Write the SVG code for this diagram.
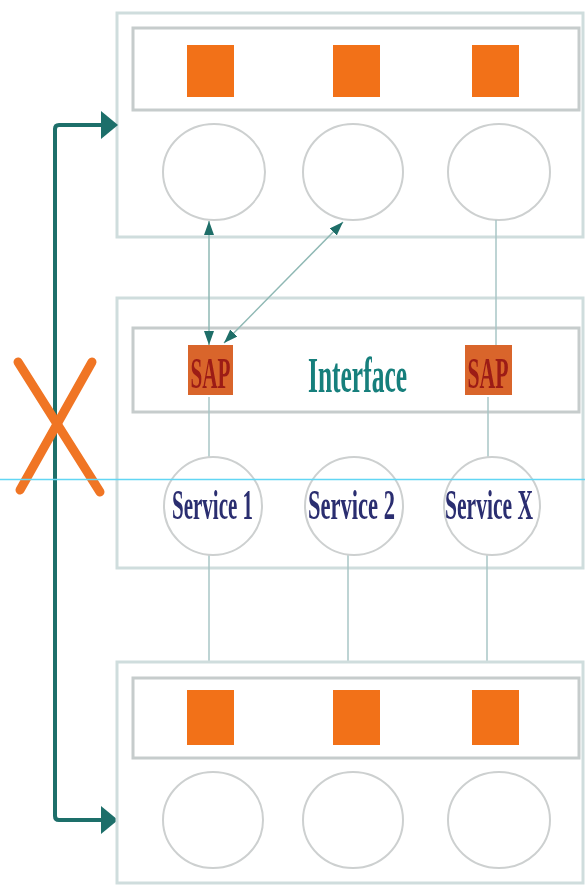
<svg xmlns="http://www.w3.org/2000/svg" width="585" height="888" viewBox="0 0 585 888">
  <style>
    .outer { fill: #ffffff; stroke: #cfdddd; stroke-width: 3; }
    .inner { fill: #ffffff; stroke: #c6cccc; stroke-width: 3; }
    .port { fill: #f27118; }
    .sap { fill: #d9652b; }
    .ent { fill: #ffffff; stroke: #cdd0d0; stroke-width: 2; }
    .link { fill: none; stroke: #a9c6c6; stroke-width: 1.5; }
    .dlink { fill: none; stroke: #8fb8b4; stroke-width: 1.5; }
    .sapt { font-family: "Liberation Serif", serif; font-weight: bold; font-size: 44px; fill: #9c1a14; text-anchor: middle; }
    .svc { font-family: "Liberation Serif", serif; font-weight: bold; font-size: 42px; fill: #2b2d70; text-anchor: middle; }
    .ifc { font-family: "Liberation Serif", serif; font-weight: bold; font-size: 50px; fill: #167f7c; text-anchor: middle; }
    .soft { filter: url(#soft); }
  </style>
  <defs>
    <filter id="soft" x="-10%" y="-10%" width="120%" height="120%">
      <feGaussianBlur stdDeviation="0.6"/>
    </filter>
    <marker id="tip" viewBox="0 0 14 10" refX="14" refY="5" markerWidth="14" markerHeight="10" markerUnits="userSpaceOnUse" orient="auto-start-reverse">
      <path d="M0,0 L14,5 L0,10 z" fill="#1e6e68"/>
    </marker>
  </defs>

  <rect width="585" height="888" fill="#ffffff"/>

  <!-- upper layer -->
  <g id="layer-upper">
    <rect class="outer" x="117" y="13" width="466" height="224"/>
    <rect class="inner" x="133" y="28" width="446" height="82"/>
    <rect class="port" x="187" y="45" width="47" height="52"/>
    <rect class="port" x="333" y="45" width="47" height="52"/>
    <rect class="port" x="472" y="45" width="47" height="52"/>
    <ellipse class="ent" cx="214" cy="172" rx="51" ry="48"/>
    <ellipse class="ent" cx="353" cy="172" rx="50" ry="48"/>
    <ellipse class="ent" cx="499" cy="172" rx="51" ry="48"/>
  </g>

  <!-- service layer -->
  <g id="layer-service">
    <rect class="outer" x="117" y="298" width="466" height="270"/>
    <rect class="inner" x="133" y="328" width="446" height="84"/>
  </g>

  <g id="connectors">
    <!-- layer-to-layer links -->
    <line class="link" x1="209" y1="397" x2="209" y2="457"/>
    <line class="link" x1="496" y1="220" x2="496" y2="345"/>
    <line class="link" x1="488" y1="397" x2="488" y2="457"/>
    <line class="link" x1="209" y1="555" x2="209" y2="662"/>
    <line class="link" x1="348" y1="555" x2="348" y2="662"/>
    <line class="link" x1="487" y1="555" x2="487" y2="662"/>
    <!-- peer access through the SAP -->
    <line class="dlink" x1="209" y1="221" x2="209" y2="345" marker-start="url(#tip)" marker-end="url(#tip)"/>
    <line class="dlink" x1="343" y1="222" x2="224" y2="343" marker-start="url(#tip)" marker-end="url(#tip)"/>
    <!-- direct path between upper and lower layers -->
    <path d="M101,125 H59 Q55,125 55,129 V816 Q55,820 59,820 H101" fill="none" stroke="#1d6f6a" stroke-width="4"/>
    <path d="M101,111 L118,125 L101,139 z" fill="#1d6f6a"/>
    <path d="M101,806 L118,820 L101,834 z" fill="#1d6f6a"/>
  </g>

  <!-- service access points and interface (narrow lettering: half-width scale) -->
  <g id="sap-1">
    <rect class="sap" x="188" y="345" width="45" height="50"/>
    <text class="sapt soft" transform="translate(210.5,388) scale(0.5,1)" x="0" y="0" textLength="80" lengthAdjust="spacingAndGlyphs">SAP</text>
  </g>
  <g id="sap-2">
    <rect class="sap" x="465" y="345" width="47" height="50"/>
    <text class="sapt soft" transform="translate(488,388) scale(0.5,1)" x="0" y="0" textLength="82" lengthAdjust="spacingAndGlyphs">SAP</text>
  </g>
  <g id="interface">
    <text class="ifc soft" transform="translate(357.5,392) scale(0.5,1)" x="0" y="0" textLength="198" lengthAdjust="spacingAndGlyphs">Interface</text>
  </g>

  <g id="service-1">
    <ellipse class="ent" cx="213" cy="506" rx="49" ry="49"/>
    <text class="svc soft" transform="translate(212.5,519) scale(0.5,1)" x="0" y="0" textLength="162" lengthAdjust="spacingAndGlyphs">Service 1</text>
  </g>
  <g id="service-2">
    <ellipse class="ent" cx="354" cy="506" rx="49" ry="49"/>
    <text class="svc soft" transform="translate(351.5,519) scale(0.5,1)" x="0" y="0" textLength="174" lengthAdjust="spacingAndGlyphs">Service 2</text>
  </g>
  <g id="service-x">
    <ellipse class="ent" cx="492" cy="506" rx="48" ry="49"/>
    <text class="svc soft" transform="translate(489,519) scale(0.5,1)" x="0" y="0" textLength="176" lengthAdjust="spacingAndGlyphs">Service X</text>
  </g>

  <!-- lower layer -->
  <g id="layer-lower">
    <rect class="outer" x="117" y="662" width="466" height="221"/>
    <rect class="inner" x="133" y="678" width="446" height="80"/>
    <rect class="port" x="187" y="690" width="47" height="55"/>
    <rect class="port" x="333" y="690" width="47" height="55"/>
    <rect class="port" x="472" y="690" width="47" height="55"/>
    <ellipse class="ent" cx="213" cy="820" rx="50" ry="48"/>
    <ellipse class="ent" cx="353" cy="820" rx="50" ry="48"/>
    <ellipse class="ent" cx="499" cy="820" rx="51" ry="48"/>
  </g>

  <!-- bypass is not allowed -->
  <g id="forbidden">
    <line x1="18" y1="362" x2="100" y2="492" stroke="#f07524" stroke-width="9" stroke-linecap="round"/>
    <line x1="92" y1="362" x2="20" y2="490" stroke="#f07524" stroke-width="9" stroke-linecap="round"/>
  </g>

  <!-- guide line -->
  <line x1="0" y1="479.5" x2="585" y2="479.5" stroke="#62d6f4" stroke-width="1.5"/>
</svg>
